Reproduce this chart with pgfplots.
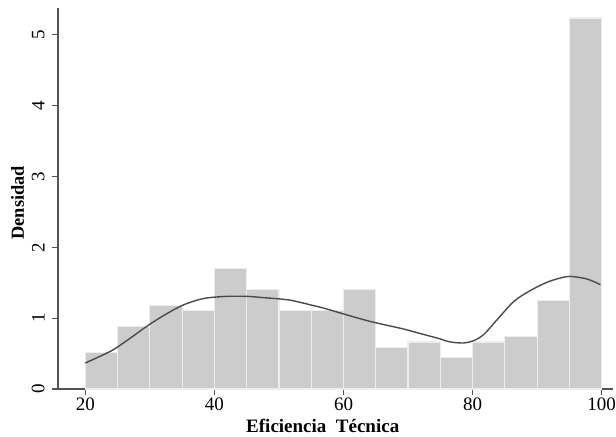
\documentclass[border=0pt]{standalone}
\usepackage{pgfplots}
\pgfplotsset{compat=1.18}
\usepackage{fontspec}
\setmainfont{Liberation Serif}
\definecolor{barfill}{HTML}{CCCCCC}
\definecolor{baredge}{HTML}{EDEDED}
\definecolor{axisgray}{HTML}{555555}
\definecolor{curvegray}{HTML}{4A4A4A}
\begin{document}
\begin{tikzpicture}[font=\fontsize{9.5}{11}\selectfont]
\useasboundingbox (-29pt,-24pt) rectangle (279pt,194.5pt);
\begin{axis}[
  scale only axis,
  width=277.5pt, height=190.5pt,
  xmin=15.77, xmax=101.75,
  ymin=0, ymax=5.38,
  axis lines=left,
  axis line style={-, draw=axisgray, line width=0.6pt},
  tick style={draw=axisgray, line width=0.6pt},
  tick align=outside,
  major tick length=3.2pt,
  xtick={20,40,60,80,100},
  ytick={0,1,2,3,4,5},
  /pgf/number format/assume math mode=true,
  yticklabel style={rotate=90, anchor=south},
  xticklabel style={anchor=north, yshift=2.5pt},
  xlabel={\textbf{Eficiencia\ \ Técnica}},
  ylabel={\fontsize{9.2}{11}\selectfont\textbf{Densidad}},
  xlabel style={at={(axis description cs:0.477,0)}, anchor=center, yshift=-18.5pt},
  ylabel style={at={(axis description cs:0,0.489)}, anchor=center, yshift=20.25pt},
  clip=false,
]
\addplot[ybar interval, fill=barfill, draw=baredge, line width=0.6pt] coordinates {
  (20,0.5166) (25,0.8856) (30,1.1808) (35,1.1070) (40,1.6974) (45,1.4022)
  (50,1.1070) (55,1.1070) (60,1.4022) (65,0.5904) (70,0.6642) (75,0.4428)
  (80,0.6642) (85,0.7380) (90,1.2546) (95,5.2399) (100,5.2399)
};
\addplot[curvegray, line width=0.7pt, smooth, tension=0.5, mark=none] coordinates {
  (20,0.367) (22,0.45) (24.35,0.555) (27,0.72) (29.5,0.884) (32,1.03)
  (34.7,1.167) (36.8,1.24) (38.8,1.285) (41.9,1.308) (45,1.308) (47.6,1.29)
  (50.2,1.271) (52,1.25) (54.8,1.19) (57,1.14) (59,1.087) (61.5,1.02)
  (64.1,0.955) (66.7,0.90) (69.3,0.847) (72,0.78) (74.5,0.72) (76.5,0.665)
  (78.6,0.65) (80.1,0.68) (81.7,0.767) (83.8,0.979) (86.4,1.237) (89,1.393)
  (91.5,1.506) (93.5,1.565) (95.1,1.59) (97.7,1.554) (99.8,1.473)
};
\end{axis}
\end{tikzpicture}
\end{document}
